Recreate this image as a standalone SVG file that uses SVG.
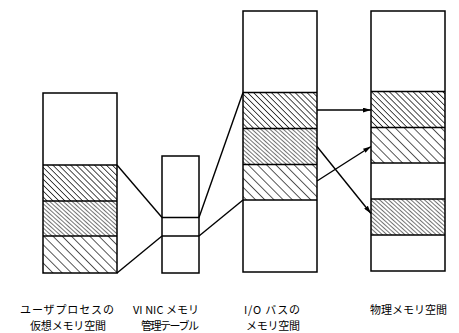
<svg xmlns="http://www.w3.org/2000/svg" width="459" height="333" viewBox="0 0 459 333">
<style>
.box{fill:none;stroke:#000;stroke-width:1.5}
.div{stroke:#000;stroke-width:1.5}
.con{fill:none;stroke:#000;stroke-width:1.4}
.lbl{font-family:"Noto Sans CJK JP","Liberation Sans",sans-serif;font-size:11px;fill:#000}
</style>
<defs>
<pattern id="hA" patternUnits="userSpaceOnUse" width="4.2" height="4.2" patternTransform="rotate(-45)">
<line x1="0" y1="0" x2="0" y2="4.2" stroke="#000" stroke-width="1.4"/>
</pattern>
<pattern id="hB" patternUnits="userSpaceOnUse" width="3" height="3" patternTransform="rotate(-48)">
<line x1="0" y1="0" x2="0" y2="3" stroke="#000" stroke-width="1.1"/>
</pattern>
<pattern id="hC" patternUnits="userSpaceOnUse" width="6.5" height="6.5" patternTransform="rotate(-45)">
<line x1="0" y1="0" x2="0" y2="6.5" stroke="#000" stroke-width="1.3"/>
</pattern>
<marker id="arr" viewBox="0 0 10 6" refX="10" refY="3" markerWidth="8" markerHeight="5" markerUnits="userSpaceOnUse" orient="auto">
<path d="M0,0 L10,3 L0,6 Z" fill="#000"/>
</marker>
</defs>
<rect width="459" height="333" fill="#fff"/>

<g id="user-vm">
<rect x="43" y="165" width="74" height="36" fill="url(#hA)"/>
<rect x="43" y="201" width="74" height="35" fill="url(#hB)"/>
<rect x="43" y="236" width="74" height="37" fill="url(#hC)"/>
<rect class="box" x="43" y="93" width="74" height="180"/>
<line class="div" x1="43" y1="165" x2="117" y2="165"/>
<line class="div" x1="43" y1="201" x2="117" y2="201"/>
<line class="div" x1="43" y1="236" x2="117" y2="236"/>
</g>

<g id="vinic-table">
<rect class="box" x="162" y="156" width="37" height="117"/>
<line class="div" x1="162" y1="217.5" x2="199" y2="217.5"/>
<line class="div" x1="162" y1="236" x2="199" y2="236"/>
</g>

<g id="io-bus">
<rect x="243" y="92.5" width="74" height="36" fill="url(#hA)"/>
<rect x="243" y="128.5" width="74" height="36" fill="url(#hB)"/>
<rect x="243" y="164.5" width="74" height="35.5" fill="url(#hC)"/>
<rect class="box" x="243" y="11" width="74" height="261"/>
<line class="div" x1="243" y1="92.5" x2="317" y2="92.5"/>
<line class="div" x1="243" y1="128.5" x2="317" y2="128.5"/>
<line class="div" x1="243" y1="164.5" x2="317" y2="164.5"/>
<line class="div" x1="243" y1="200" x2="317" y2="200"/>
</g>

<g id="phys-mem">
<rect x="371" y="91.5" width="74" height="36" fill="url(#hA)"/>
<rect x="371" y="127.5" width="74" height="35.5" fill="url(#hC)"/>
<rect x="371" y="199" width="74" height="36" fill="url(#hB)"/>
<rect class="box" x="371" y="11" width="74" height="260"/>
<line class="div" x1="371" y1="91.5" x2="445" y2="91.5"/>
<line class="div" x1="371" y1="127.5" x2="445" y2="127.5"/>
<line class="div" x1="371" y1="163" x2="445" y2="163"/>
<line class="div" x1="371" y1="199" x2="445" y2="199"/>
<line class="div" x1="371" y1="235" x2="445" y2="235"/>
</g>

<g id="connectors">
<line class="con" x1="117" y1="165" x2="162" y2="217.5"/>
<line class="con" x1="117" y1="273" x2="162" y2="236"/>
<line class="con" x1="199" y1="217.5" x2="243" y2="92.5"/>
<line class="con" x1="199" y1="236" x2="243" y2="200"/>
<line class="con" x1="317" y1="110" x2="371" y2="110" marker-end="url(#arr)"/>
<line class="con" x1="317" y1="181" x2="371" y2="146.5" marker-end="url(#arr)"/>
<line class="con" x1="317" y1="146.5" x2="371" y2="213.5" marker-end="url(#arr)"/>
</g>

<g id="labels">
<text class="lbl" x="20" y="314" textLength="94">ユーザプロセスの</text>
<text class="lbl" x="30" y="330" textLength="76">仮想メモリ空間</text>
<text class="lbl" x="133" y="314" textLength="66">VI NIC メモリ</text>
<text class="lbl" x="141" y="330" textLength="58">管理テーブル</text>
<text class="lbl" x="244" y="314" textLength="56">I/O バスの</text>
<text class="lbl" x="246" y="330" textLength="54">メモリ空間</text>
<text class="lbl" x="370" y="314" textLength="77">物理メモリ空間</text>
</g>
</svg>
